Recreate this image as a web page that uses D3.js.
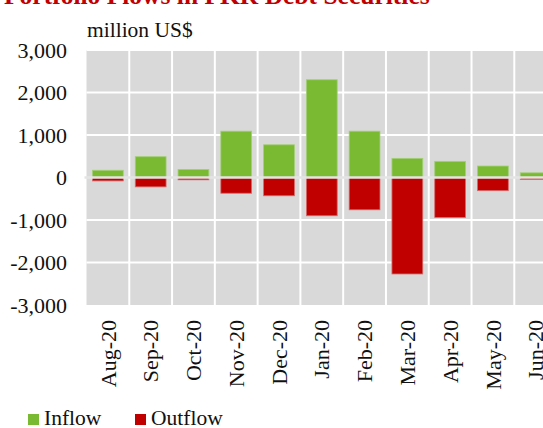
<!DOCTYPE html>
<html>
<head>
<meta charset="utf-8">
<script src="https://cdn.jsdelivr.net/npm/d3@7"></script>
<style>
  html, body { margin: 0; padding: 0; background: #fff; }
  svg { display: block; font-family: "Liberation Serif", "Times New Roman", serif; }
</style>
</head>
<body>
<svg id="chart" width="543" height="428"></svg>
<script>
// Monthly portfolio flows, million US$
const months  = ["Aug-20","Sep-20","Oct-20","Nov-20","Dec-20","Jan-20","Feb-20","Mar-20","Apr-20","May-20","Jun-20"];
const inflow  = [170, 490, 190, 1090, 770, 2300, 1090, 450, 380, 270, 110];
const outflow = [-80, -220, -55, -370, -430, -900, -760, -2270, -940, -310, -45];
const yTicks  = [3000, 2000, 1000, 0, -1000, -2000, -3000];

const svg = d3.select("#chart");
const tickSize = 22;
const textSize = 21.5;

const left = 86.5, step = 42.78;
const x = d3.scaleBand()
  .domain(months)
  .range([left, left + step * months.length])
  .paddingInner(0.28)
  .paddingOuter(0.14);
const y = d3.scaleLinear().domain([-3000, 3000]).range([305, 50]);

// Title
svg.append("text")
  .attr("x", 4).attr("y", 4)
  .attr("fill", "#c00000")
  .attr("font-weight", "bold")
  .attr("font-size", 25.5)
  .text("Portfolio Flows in PKR Debt Securities");

// Unit label
svg.append("text")
  .attr("x", 87).attr("y", 37)
  .attr("font-size", textSize)
  .attr("fill", "#111")
  .text("million US$");

// Plot background
const x0 = x.range()[0], x1 = x.range()[1];
svg.append("rect")
  .attr("x", x0).attr("y", y(3000))
  .attr("width", x1 - x0).attr("height", y(-3000) - y(3000))
  .attr("fill", "#d9d9d9");

// Horizontal grid
svg.append("g").selectAll("line").data(yTicks.filter(d => d !== 0 && d !== -3000)).join("line")
  .attr("x1", x0).attr("x2", x1)
  .attr("y1", d => y(d)).attr("y2", d => y(d))
  .attr("stroke", "#fff").attr("stroke-width", 2);

// Vertical grid at category boundaries
svg.append("g").selectAll("line").data(months.slice(1)).join("line")
  .attr("x1", d => x(d) - x.step() * x.paddingInner() / 2)
  .attr("x2", d => x(d) - x.step() * x.paddingInner() / 2)
  .attr("y1", y(3000)).attr("y2", y(-3000))
  .attr("stroke", "#fff").attr("stroke-width", 2);

// Bars
svg.append("g").selectAll("rect").data(months).join("rect")
  .attr("x", d => x(d)).attr("width", x.bandwidth())
  .attr("y", (d, i) => y(inflow[i]))
  .attr("height", (d, i) => y(0) - y(inflow[i]))
  .attr("fill", "#7aba33")
  .attr("stroke", "#a3cf78").attr("stroke-width", 0.8);

svg.append("g").selectAll("rect").data(months).join("rect")
  .attr("x", d => x(d)).attr("width", x.bandwidth())
  .attr("y", y(0))
  .attr("height", (d, i) => y(outflow[i]) - y(0))
  .attr("fill", "#c00000")
  .attr("stroke", "#d86a6a").attr("stroke-width", 0.8);

// Zero line
svg.append("line")
  .attr("x1", x0 - 2).attr("x2", x1)
  .attr("y1", y(0)).attr("y2", y(0))
  .attr("stroke", "#e4e4e4").attr("stroke-width", 2.5);

// Y axis labels
const fmt = d3.format(",");
const yAxis = d3.axisLeft(y).tickValues(yTicks).tickSize(0).tickPadding(0)
  .tickFormat(d => fmt(d).replace("\u2212", "-"));
const gy = svg.append("g").attr("transform", "translate(67,0)").call(yAxis);
gy.select(".domain").remove();
gy.selectAll("text").attr("font-size", tickSize).attr("font-family", "Liberation Serif").attr("fill", "#111");

// X axis labels
const xAxis = d3.axisBottom(x).tickSize(0).tickPadding(0);
const gx = svg.append("g").attr("transform", "translate(0,320)").call(xAxis);
gx.select(".domain").remove();
gx.selectAll("text")
  .attr("font-size", tickSize).attr("font-family", "Liberation Serif").attr("fill", "#111")
  .attr("transform", "rotate(-90)")
  .attr("text-anchor", "end")
  .attr("x", 0).attr("y", 0)
  .attr("dy", "0.35em");

// Legend
const legend = [{name: "Inflow", color: "#7aba33", x: 28}, {name: "Outflow", color: "#c00000", x: 135}];
const lg = svg.append("g").selectAll("g").data(legend).join("g")
  .attr("transform", d => `translate(${d.x},0)`);
lg.append("rect").attr("x", 0).attr("y", 414).attr("width", 11).attr("height", 11).attr("fill", d => d.color);
lg.append("text").attr("x", 16).attr("y", 425).attr("font-size", textSize).attr("fill", "#111").text(d => d.name);
</script>
</body>
</html>
